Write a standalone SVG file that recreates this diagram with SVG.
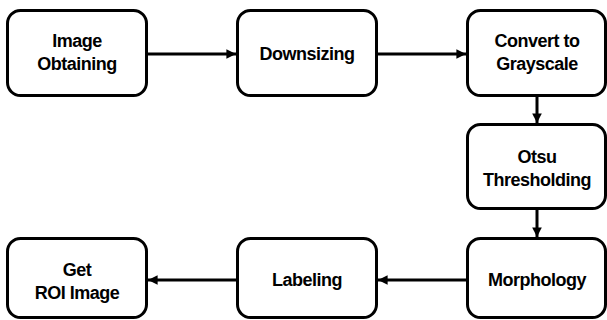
<svg xmlns="http://www.w3.org/2000/svg" width="607" height="320" viewBox="0 0 607 320">
<style>
.box{fill:#fff;stroke:#000;stroke-width:3}
.t{font-family:"Liberation Sans",Arial,sans-serif;font-weight:bold;font-size:18px;text-anchor:middle;fill:#000;letter-spacing:-0.5px}
.c{stroke:#000;stroke-width:3;fill:none;marker-end:url(#ah)}
</style>
<defs>
<marker id="ah" viewBox="0 0 10 10" refX="10" refY="5" markerWidth="3.2" markerHeight="3.2" markerUnits="strokeWidth" orient="auto">
<path d="M0,0 L10,5 L0,10 z" fill="#000"/>
</marker>
</defs>
<rect width="607" height="320" fill="#fff"/>
<g id="connectors">
<line class="c" x1="148" y1="54" x2="236" y2="54"/>
<line class="c" x1="378" y1="54" x2="466" y2="54"/>
<line class="c" x1="537" y1="96" x2="537" y2="123"/>
<line class="c" x1="537" y1="210" x2="537" y2="237"/>
<line class="c" x1="466" y1="280" x2="378" y2="280"/>
<line class="c" x1="236" y1="280" x2="148" y2="280"/>
</g>
<g id="n1"><rect class="box" x="7.5" y="10.5" width="139" height="85" rx="13"/>
<text class="t" x="77" y="47">Image</text><text class="t" x="77" y="70">Obtaining</text></g>
<g id="n2"><rect class="box" x="237.5" y="10.5" width="139" height="85" rx="13"/>
<text class="t" x="307" y="60">Downsizing</text></g>
<g id="n3"><rect class="box" x="467.5" y="10.5" width="138" height="85" rx="13"/>
<text class="t" x="537" y="47">Convert to</text><text class="t" x="537" y="70">Grayscale</text></g>
<g id="n4"><rect class="box" x="467.5" y="124.5" width="138" height="84" rx="13"/>
<text class="t" x="537" y="163">Otsu</text><text class="t" x="537" y="186">Thresholding</text></g>
<g id="n5"><rect class="box" x="467.5" y="238.5" width="138" height="79" rx="13"/>
<text class="t" x="537" y="286">Morphology</text></g>
<g id="n6"><rect class="box" x="237.5" y="238.5" width="139" height="79" rx="13"/>
<text class="t" x="307" y="286">Labeling</text></g>
<g id="n7"><rect class="box" x="7.5" y="238.5" width="139" height="79" rx="13"/>
<text class="t" x="77" y="276">Get</text><text class="t" x="77" y="299">ROI Image</text></g>
</svg>
